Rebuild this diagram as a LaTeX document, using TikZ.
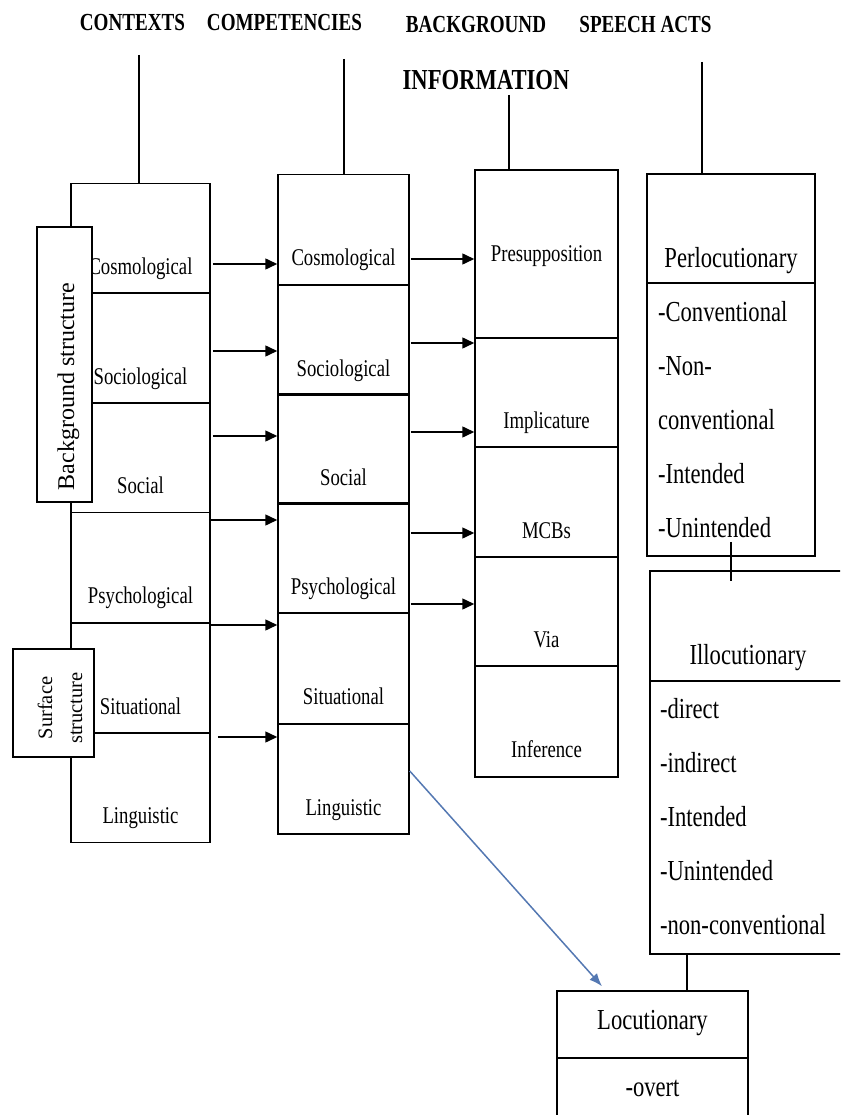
\documentclass[tikz,border=0pt]{standalone}
\usepackage{fontspec}
\setmainfont{Liberation Serif}
\newfontfamily\narrowserif[FakeStretch=0.78]{Liberation Serif}
\usetikzlibrary{arrows.meta}
\definecolor{arrowblue}{RGB}{84,120,178}

\begin{document}
\begin{tikzpicture}
  [x=1pt,y=-1pt,line width=1.5pt]
      \tikzstyle{cell_style} = [draw=black, inner sep=2pt, text height=78pt, text depth=6pt, font=\narrowserif\fontsize{24}{26}\selectfont]
      \tikzstyle{ctx_cell} = [cell_style, minimum width=139pt, minimum height=110pt]
      \tikzstyle{cmp_cell} = [cell_style, minimum width=131pt, minimum height=110pt]
      \tikzstyle{bgi_cell} = [cell_style, minimum width=143pt]
      \tikzstyle{head_style} = [font=\narrowserif\bfseries\fontsize{24.5}{26}\selectfont]
      \tikzstyle{act_style} = [draw=black, inner sep=2pt, font=\narrowserif\fontsize{29}{54}\selectfont]
      \tikzstyle{list_style} = [anchor=north west, align=left, inner sep=0pt, font=\narrowserif\fontsize{29}{54}\selectfont]
      \tikzstyle{side_style} = [draw=black, fill=white]
      \tikzstyle{arrow_style} = [draw=black, -{Triangle[length=12pt,width=11pt]}]
      \tikzstyle{blue_arrow} = [draw=arrowblue, -{Latex[length=13pt,width=10pt]}]
  \useasboundingbox (0,0) rectangle (840,1115);
  \clip (0,0) rectangle (840,1115);

  % column titles
  \node[head_style] (ctx_title) at (132.5,23) {CONTEXTS};
  \node[head_style] (cmp_title) at (284.5,23) {COMPETENCIES};
  \node[head_style] (bgi_title) at (476,25) {BACKGROUND};
  \node[head_style, font=\narrowserif\bfseries\fontsize{29}{31}\selectfont] (info_title) at (486,80) {INFORMATION};
  \node[head_style] (act_title) at (645.5,25) {SPEECH ACTS};
  \coordinate (ctx_top) at (139,55);
  \coordinate (cmp_top) at (344,59);
  \coordinate (bgi_top) at (509,95);
  \coordinate (act_top) at (702,62);

  % contexts
  \node[ctx_cell] (ctx1) at (140.5,238.5) {Cosmological};
  \node[ctx_cell] (ctx2) at (140.5,348) {Sociological};
  \node[ctx_cell] (ctx3) at (140.5,457.5) {Social};
  \node[ctx_cell] (ctx4) at (140.5,567.5) {Psychological};
  \node[ctx_cell] (ctx5) at (140.5,678) {Situational};
  \node[ctx_cell] (ctx6) at (140.5,787.5) {Linguistic};
  \node[side_style, minimum width=55pt, minimum height=275pt] (bg_struct) at (64.5,364.5) {};
  \node[rotate=90, inner sep=0pt, font=\fontsize{24}{26}\selectfont] (bg_label) at ([xshift=4pt,yshift=-22pt]bg_struct.center) {Background structure};
  \node[side_style, minimum width=81pt, minimum height=108pt] (sf_struct) at (53.5,703) {};
  \node[rotate=90, align=center, inner sep=0pt, font=\fontsize{20.5}{30}\selectfont] (sf_label) at ([xshift=6.5pt,yshift=-5pt]sf_struct.center) {Surface\\structure};

  % competencies
  \node[cmp_cell] (cmp1) at (343.5,229.5) {Cosmological};
  \node[cmp_cell] (cmp2) at (343.5,340) {Sociological};
  \node[cmp_cell] (cmp3) at (343.5,449) {Social};
  \node[cmp_cell] (cmp4) at (343.5,558) {Psychological};
  \node[cmp_cell] (cmp5) at (343.5,668.5) {Situational};
  \node[cmp_cell] (cmp6) at (343.5,779) {Linguistic};

  % background information
  \node[bgi_cell, minimum height=168pt, text height=20pt] (bgi1) at (546.5,254) {Presupposition};
  \node[bgi_cell, minimum height=109pt] (bgi2) at (546.5,392.5) {Implicature};
  \node[bgi_cell, minimum height=110pt] (bgi3) at (546.5,502) {MCBs};
  \node[bgi_cell, minimum height=109pt] (bgi4) at (546.5,611.5) {Via};
  \node[bgi_cell, minimum height=111pt] (bgi5) at (546.5,721.5) {Inference};

  % speech acts
  \node[act_style, minimum width=168pt, minimum height=109pt, text height=83pt, text depth=6pt] (perlo_head) at (731,228.5) {Perlocutionary};
  \node[act_style, minimum width=168pt, minimum height=273pt] (perlo_body) at (731,419.5) {};
  \node[list_style] (perlo_list) at ([xshift=11pt,yshift=-18pt]perlo_body.north west) {-Conventional\\-Non-\\conventional\\-Intended\\-Unintended};
  \node[act_style, minimum width=196pt, minimum height=110pt, text height=82pt, text depth=6pt] (illo_head) at (748,626) {Illocutionary};
  \node[act_style, minimum width=196pt, minimum height=273pt] (illo_body) at (748,817.5) {};
  \node[list_style] (illo_list) at ([xshift=10pt,yshift=-17pt]illo_body.north west) {-direct\\-indirect\\-Intended\\-Unintended\\-non-conventional};
  \node[act_style, minimum width=191pt, minimum height=67pt, text height=20pt, text depth=11pt] (loc_head) at (652.5,1024.5) {Locutionary};
  \node[act_style, minimum width=191pt, minimum height=102pt, text height=10pt, text depth=36pt] (loc_body) at (652.5,1109) {-overt};

  \draw (ctx_top) -- (ctx_top |- ctx1.north);
  \draw (cmp_top) -- (cmp_top |- cmp1.north);
  \draw (bgi_top) -- (bgi_top |- bgi1.north);
  \draw (act_top) -- (act_top |- perlo_head.north);

  \draw[arrow_style] ([xshift=2pt,yshift=-25.5pt]ctx1.east) -- ([yshift=-34.5pt]cmp1.west);
  \draw[arrow_style] ([xshift=2pt,yshift=-3pt]ctx2.east) -- ([yshift=-11pt]cmp2.west);
  \draw[arrow_style] ([xshift=2pt,yshift=21.5pt]ctx3.east) -- ([yshift=13pt]cmp3.west);
  \draw[arrow_style] ([xshift=-2pt,yshift=47.5pt]ctx4.east) -- ([yshift=38pt]cmp4.west);
  \draw[arrow_style] ([yshift=53pt]ctx5.east) -- ([yshift=43.5pt]cmp5.west);
  \draw[arrow_style] ([xshift=7pt,yshift=50.5pt]ctx6.east) -- ([yshift=42pt]cmp6.west);

  \draw[arrow_style] ([xshift=1pt,yshift=-29.5pt]cmp1.east) -- ([yshift=-5pt]bgi1.west);
  \draw[arrow_style] ([xshift=1pt,yshift=-3pt]cmp2.east) -- ([yshift=49.5pt]bgi2.west);
  \draw[arrow_style] ([xshift=1pt,yshift=17pt]cmp3.east) -- ([yshift=-39.5pt]bgi2.west);
  \draw[arrow_style] ([xshift=1pt,yshift=25pt]cmp4.east) -- ([yshift=-31pt]bgi3.west);
  \draw[arrow_style] ([xshift=1pt,yshift=-46pt]cmp4.east) -- ([yshift=7.5pt]bgi4.west);

  \draw[shorten <=-15pt, shorten >=-11pt] (perlo_body.south) -- ([xshift=-17pt]illo_head.north);
  \draw ([xshift=-61pt]illo_body.south) -- ([xshift=34.5pt]loc_head.north);
  \draw[blue_arrow] ([yshift=8pt]cmp6.east) -- ([xshift=-50.5pt,yshift=4pt]loc_head.north);
\end{tikzpicture}
\end{document}
